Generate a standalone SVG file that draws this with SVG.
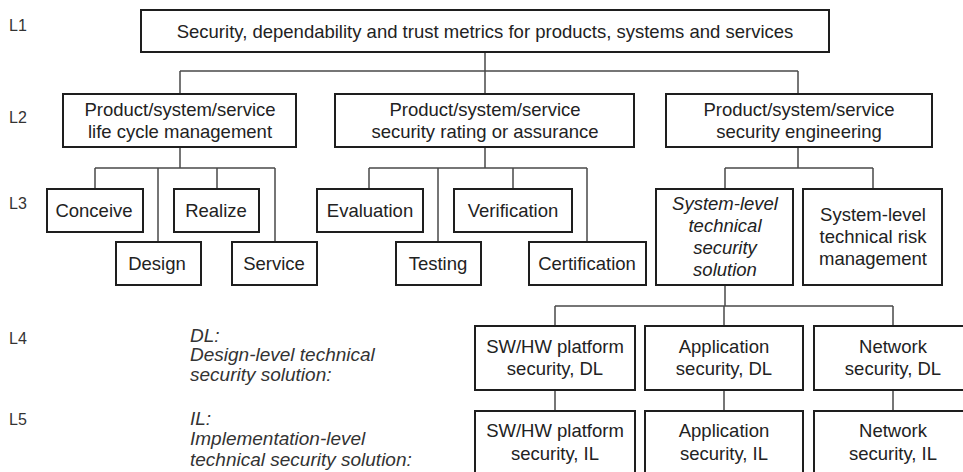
<svg xmlns="http://www.w3.org/2000/svg" width="963" height="472" viewBox="0 0 963 472">
<style>
.box{fill:#fff;stroke:#1e1e1e;stroke-width:2}
.conn{fill:none;stroke:#4a4a4a;stroke-width:1.5}
text{font-family:"Liberation Sans",Arial,sans-serif;fill:#222;font-size:18.5px;text-anchor:middle;dominant-baseline:central}
.lvl{font-size:16px;text-anchor:start;fill:#333}
.it{font-style:italic}
.leg{font-size:19px;font-style:italic;text-anchor:start;fill:#333}
</style>
<rect width="963" height="472" fill="#fff"/>
<g id="connectors">
<path class="conn" d="M485 52V71M180 71H798M180 71V94M485 71V94M798 71V94"/>
<path class="conn" d="M180 147V168M95 168H275M95 168V189M158 168V242M217 168V189M275 168V242"/>
<path class="conn" d="M485 147V168M369 168H587M369 168V189M438 168V242M513 168V189M587 168V242"/>
<path class="conn" d="M798 147V168M725 168H873M725 168V189M873 168V189"/>
<path class="conn" d="M725 285V306M555 306H893M555 306V326M724 306V326M893 306V326"/>
<path class="conn" d="M555 390V411M724 390V411M893 390V411"/>
</g>
<g id="levels">
<text class="lvl" x="9" y="25">L1</text>
<text class="lvl" x="9" y="117">L2</text>
<text class="lvl" x="9" y="203">L3</text>
<text class="lvl" x="9" y="338">L4</text>
<text class="lvl" x="9" y="419">L5</text>
</g>
<g id="legend">
<text class="leg" x="190" y="335">DL:</text>
<text class="leg" x="190" y="354">Design-level technical</text>
<text class="leg" x="190" y="374">security solution:</text>
<text class="leg" x="190" y="418">IL:</text>
<text class="leg" x="190" y="438">Implementation-level</text>
<text class="leg" x="190" y="459">technical security solution:</text>
</g>
<g id="n-root"><rect class="box" x="141" y="10" width="688" height="42"/><text x="485" y="31">Security, dependability and trust metrics for products, systems and services</text></g>
<g id="n-lifecycle"><rect class="box" x="63" y="94" width="233" height="53"/><text x="180" y="109">Product/system/service</text><text x="180" y="131">life cycle management</text></g>
<g id="n-rating"><rect class="box" x="335" y="94" width="299" height="53"/><text x="485" y="109">Product/system/service</text><text x="485" y="131">security rating or assurance</text></g>
<g id="n-engineering"><rect class="box" x="666" y="94" width="266" height="53"/><text x="799" y="109">Product/system/service</text><text x="799" y="131">security engineering</text></g>
<g id="n-conceive"><rect class="box" x="47" y="189" width="96" height="43"/><text x="94" y="210">Conceive</text></g>
<g id="n-realize"><rect class="box" x="174" y="189" width="85" height="43"/><text x="216" y="210">Realize</text></g>
<g id="n-design"><rect class="box" x="116" y="242" width="85" height="43"/><text x="157" y="263">Design</text></g>
<g id="n-service"><rect class="box" x="232" y="242" width="85" height="43"/><text x="274" y="263">Service</text></g>
<g id="n-evaluation"><rect class="box" x="317" y="189" width="106" height="43"/><text x="370" y="210">Evaluation</text></g>
<g id="n-verification"><rect class="box" x="454" y="189" width="118" height="43"/><text x="513" y="210">Verification</text></g>
<g id="n-testing"><rect class="box" x="396" y="242" width="85" height="43"/><text x="438" y="263">Testing</text></g>
<g id="n-certification"><rect class="box" x="529" y="242" width="117" height="43"/><text x="587" y="263">Certification</text></g>
<g id="n-sys-solution"><rect class="box" x="656" y="189" width="137" height="96"/><text class="it" x="725" y="203">System-level</text><text class="it" x="725" y="225">technical</text><text class="it" x="725" y="247">security</text><text class="it" x="725" y="269">solution</text></g>
<g id="n-sys-risk"><rect class="box" x="803" y="189" width="139" height="96"/><text x="873" y="214">System-level</text><text x="873" y="236">technical risk</text><text x="873" y="258">management</text></g>
<g id="n-swhw-dl"><rect class="box" x="475" y="326" width="160" height="64"/><text x="555" y="346">SW/HW platform</text><text x="555" y="368">security, DL</text></g>
<g id="n-app-dl"><rect class="box" x="645" y="326" width="158" height="64"/><text x="724" y="346">Application</text><text x="724" y="368">security, DL</text></g>
<g id="n-net-dl"><rect class="box" x="814" y="326" width="160" height="64"/><text x="893" y="346">Network</text><text x="893" y="368">security, DL</text></g>
<g id="n-swhw-il"><rect class="box" x="475" y="411" width="160" height="70"/><text x="555" y="430">SW/HW platform</text><text x="555" y="453">security, IL</text></g>
<g id="n-app-il"><rect class="box" x="645" y="411" width="158" height="70"/><text x="724" y="430">Application</text><text x="724" y="453">security, IL</text></g>
<g id="n-net-il"><rect class="box" x="814" y="411" width="160" height="70"/><text x="893" y="430">Network</text><text x="893" y="453">security, IL</text></g>
</svg>
